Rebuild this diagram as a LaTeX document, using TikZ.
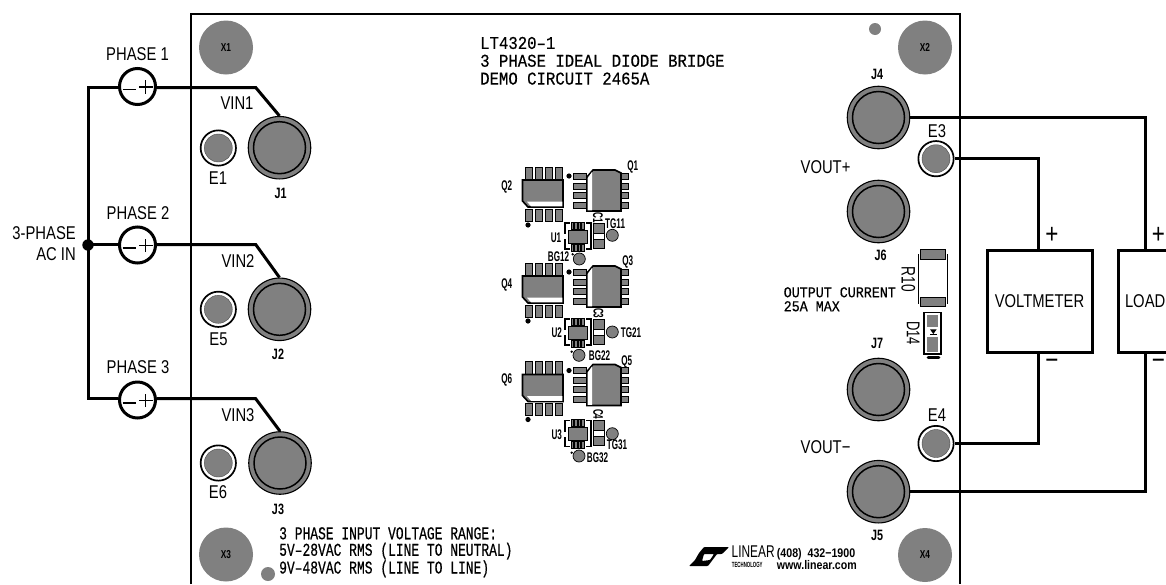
\documentclass[tikz,border=0pt]{standalone}
\usepackage{fontspec}
\setmainfont{Liberation Sans}
\newfontfamily\narrowf[FakeStretch=0.80]{Liberation Sans}
\newfontfamily\thinf[FakeStretch=0.70]{Liberation Sans}
\newfontfamily\silkf[FakeStretch=0.72]{Liberation Sans Bold}
\newfontfamily\tinyf[FakeStretch=0.58]{Liberation Sans Bold}
\newfontfamily\contactf[FakeStretch=0.85]{Liberation Sans Bold}
\newfontfamily\monoa[FakeStretch=0.87,FakeBold=0.4]{Liberation Mono}
\newfontfamily\monoc[FakeStretch=0.89,FakeBold=0.4]{Liberation Mono}
\newfontfamily\monoe[FakeStretch=0.72,FakeBold=0.4]{Liberation Mono}
\definecolor{pcb}{RGB}{128,128,128}
\tikzset{
  wire/.style={line width=3pt,line join=miter},
  board/.style={line width=1.7pt},
  lab/.style={font=\narrowf\fontsize{18.5}{18.5}\selectfont,inner sep=0pt},
  signtxt/.style={font=\narrowf\fontsize{28}{28}\selectfont,inner sep=0pt},
  silk/.style={font=\silkf\fontsize{#1}{#1}\selectfont,inner sep=0pt},
  silk/.default=15,
  smalltxt/.style={font=\tinyf\fontsize{14}{14}\selectfont,inner sep=0pt},
  titletxt/.style={font=\monoa\fontsize{18}{17.8}\selectfont,inner sep=0pt,align=left,anchor=north west},
  notetxt/.style={font=\monoc\fontsize{15}{14}\selectfont,inner sep=0pt,align=left,anchor=north west},
  rangetxt/.style={font=\monoe\fontsize{18}{16.5}\selectfont,inner sep=0pt,align=left,anchor=north west},
  dotp/.style={circle,fill=pcb,minimum size=#1,inner sep=0pt},
  phase/.style={circle,draw=black,line width=3pt,fill=white,minimum size=36pt,inner sep=0pt},
  box/.style={draw=black,line width=3pt,fill=white,inner sep=0pt},
  pad/.style={fill=pcb,draw=black,line width=.8pt},
  conn/.style={circle,draw=black,line width=1.1pt,fill=pcb,minimum size=62.5pt,inner sep=0pt},
  turret/.style={circle,draw=black,line width=1.7pt,fill=white,minimum size=35.3pt,inner sep=0pt},
}
\newcommand{\jack}[2]{%
  \node[conn] (#1) at (#2) {};
  \draw[black,line width=1.5pt] (#2) circle[radius=26];
}
\newcommand{\turr}[2]{%
  \node[turret] (#1) at (#2) {};
  \fill[pcb] (#2) circle[radius=14];
  \draw[black!70,line width=.4pt] (#2) circle[radius=14];
}
% #1 = vertical offset of the two FETs, #2 = vertical offset of controller and capacitor
\newcommand{\fetgroup}[2]{%
\begin{scope}[yshift=-#1pt]
  \foreach \px in {525,535,545,555}{
    \draw[pad] (\px,167) rectangle ++(7,13);
    \draw[pad] (\px,209) rectangle ++(7,12);
  }
  \fill[pcb,draw=black,line width=1.6pt] (522.5,180) -- (563,180) -- (563,207) -- (528,207) -- (522.5,201) -- cycle;
  \fill[white] (527,201.7) -- (562.3,201.7) -- (562.3,206.3) -- (531,206.3) -- cycle;
  \fill[black] (528,225) circle[radius=2.6];
  \foreach \py in {173,183,192,202}{
    \draw[pad] (573,\py) rectangle ++(13,6);
    \draw[pad] (616,\py) rectangle ++(12,6);
  }
  \fill[pcb,draw=black,line width=1.6pt] (587,177) -- (593,170) -- (615,170) -- (621,173) -- (621,211) -- (587,211) -- cycle;
  \fill[white] (587.7,178) -- (592,172) -- (592,210.4) -- (587.7,210.4) -- cycle;
  \fill[black] (569,176) circle[radius=2.6];
\end{scope}
\begin{scope}[yshift=-#2pt]
  \foreach \px in {571,574.5,578,581.5}{
    \draw[pad,line width=.4pt] (\px,222) rectangle ++(2.6,7);
    \draw[pad,line width=.4pt] (\px,244) rectangle ++(2.6,7);
  }
  \draw[black,line width=1.1pt] (570,223) -- (565,223) -- (565,249) -- (570,249) (586,223) -- (591,223) -- (591,249) -- (586,249);
  \fill[pcb,draw=black,line width=.6pt] (568,230) rectangle (587,243);
  \fill[white] (564,234) rectangle (567,239);
  \draw[pad,fill=white] (593,223) rectangle (604,248);
  \draw[pad] (593,223) rectangle (604,233);
  \draw[pad] (593,239) rectangle (604,248);
\end{scope}}
\begin{document}
\begin{tikzpicture}[x=1pt,y=-1pt]
\useasboundingbox (0,0) rectangle (1166,584);
\fill[white] (0,0) rectangle (1166,584);

% board
\draw[board] (191,584) -- (191,14) -- (960,14) -- (960,584);

% mounting holes
\node[dotp=54pt] (x1) at (226,47.5) {};
\node[dotp=54pt] (x2) at (925,47.5) {};
\node[dotp=54pt] (x3) at (226,554.5) {};
\node[dotp=54pt] (x4) at (925,555) {};
\node[silk=11.5] at (x1) {X1};
\node[silk=11.5] at (x2) {X2};
\node[silk=11.5] at (x3) {X3};
\node[silk=11.5] at (x4) {X4};
\node[dotp=12pt] (fid1) at (875,29) {};
\node[dotp=14pt] (fid2) at (268,574) {};

% wiring coordinates
\coordinate (busT) at (88,87.5);
\coordinate (busM) at (88,244.5);
\coordinate (busB) at (88,398.7);
\coordinate (k1) at (255.7,87.5);
\coordinate (k2) at (255.7,244.5);
\coordinate (k3) at (255.7,398.7);
\coordinate (c1) at (1145,117.5);
\coordinate (c2) at (1145,491.7);
\coordinate (m1) at (1038,158.7);
\coordinate (m2) at (1038,443.5);

\jack{J1}{279.5,147.7}
\jack{J2}{279.5,309.3}
\jack{J3}{280,463}
\turr{E1}{218.3,148}
\turr{E5}{218.3,309.3}
\turr{E6}{218.3,463}
\jack{J4}{878.5,117.5}
\jack{J6}{878.5,211.5}
\jack{J7}{878.5,389.5}
\jack{J5}{878.5,491.7}
\turr{E3}{936,158.7}
\turr{E4}{936,443.5}

% phases
\node[phase] (p1) at (137.5,86.5) {};
\node[phase] (p2) at (137.5,245) {};
\node[phase] (p3) at (137.5,400) {};
\foreach \n in {p1,p2,p3}{
  \draw[line width=1.4pt] ([xshift=-15pt,yshift=-3pt]\n.center) -- ([xshift=-1.5pt,yshift=-3pt]\n.center);
  \draw[line width=1.4pt] ([xshift=1.5pt,yshift=-.5pt]\n.center) -- ([xshift=15pt,yshift=-.5pt]\n.center);
  \draw[line width=1.4pt] ([xshift=8.2pt,yshift=-7.2pt]\n.center) -- ([xshift=8.2pt,yshift=6.2pt]\n.center);
}
\draw[wire] (p1.west |- busT) -- (busT) -- (busB) -- (p3.west |- busB);
\draw[wire] (busM) -- (p2.west |- busM);
\fill (88,245) circle[radius=5.7];
\draw[wire] (p1.east |- k1) -- (k1) -- (J1.north);
\draw[wire] (p2.east |- k2) -- (k2) -- (J2.north);
\draw[wire] (p3.east |- k3) -- (k3) -- (J3.north);

% instruments
\node[box,minimum width=105pt,minimum height=102pt] (vm) at (1039.5,301) {};
\node[box,minimum width=62pt,minimum height=102pt] (load) at (1149,301) {};
\node[lab] at (vm.center) {VOLTMETER};
\node[lab,anchor=east] at (1165.5,301) {LOAD};
\draw[wire] (J4.east) -- (c1) -- (c1 |- load.north);
\draw[wire] (J5.east) -- (c2) -- (c2 |- load.south);
\draw[wire] (E3.east) -- (m1) -- (vm.north -| m1);
\draw[wire] (E4.east) -- (m2) -- (vm.south -| m2);
\node[signtxt] at (1052,235) {+};
\node[signtxt] at (1052,364) {\textminus};
\node[signtxt] at (1158.5,235) {+};
\node[signtxt] at (1158.5,364) {\textminus};

% labels
\node[lab] at (137.5,54) {PHASE 1};
\node[lab] at (138,213.3) {PHASE 2};
\node[lab] at (138,367) {PHASE 3};
\node[lab,anchor=east] at (76,233.3) {3-PHASE};
\node[lab,anchor=east] at (76,254.3) {AC IN};
\node[lab] at (237,103.5) {VIN1};
\node[lab] at (238,261) {VIN2};
\node[lab] at (238,415.5) {VIN3};
\node[lab] at (825.5,167) {VOUT+};
\node[lab] at (825.5,447) {VOUT\textminus};
\node[lab] at (218,178.5) {E1};
\node[lab] at (218.5,339.5) {E5};
\node[lab] at (218,492) {E6};
\node[lab] at (937,131) {E3};
\node[lab] at (937,415) {E4};
\node[silk] at (280.7,193) {J1};
\node[silk] at (278,354) {J2};
\node[silk] at (278,509) {J3};
\node[silk] at (877,74) {J4};
\node[silk] at (880.7,255) {J6};
\node[silk] at (877,343.3) {J7};
\node[silk] at (877,535) {J5};

% texts
\node[titletxt] at (480,36.7) {LT4320–1\\3 PHASE IDEAL DIODE BRIDGE\\DEMO CIRCUIT 2465A};
\node[notetxt] at (783.5,287) {OUTPUT CURRENT\\25A MAX};
\node[rangetxt] at (279,527) {3 PHASE INPUT VOLTAGE RANGE:\\5V–28VAC RMS (LINE TO NEUTRAL)\\9V–48VAC RMS (LINE TO LINE)};

% FET groups
\fetgroup{0}{0}
\fetgroup{96}{96}
\fetgroup{194.5}{197.5}
\node[smalltxt] at (632.7,166.7) {Q1};
\node[smalltxt] at (506.7,187.3) {Q2};
\node[smalltxt] at (627.7,261.7) {Q3};
\node[smalltxt] at (506.7,285) {Q4};
\node[smalltxt] at (626.7,361.7) {Q5};
\node[smalltxt] at (506.7,380) {Q6};
\node[smalltxt] at (556,237.3) {U1};
\node[smalltxt] at (556.7,332.7) {U2};
\node[smalltxt] at (556.7,434.3) {U3};
\node[smalltxt,rotate=-90] at (598,217.7) {C1};
\node[smalltxt,rotate=-90] at (598.3,313.3) {C3};
\node[smalltxt,rotate=-90] at (598.3,414.3) {C4};
\node[dotp=12pt] (tg1) at (612.3,235.3) {};
\node[dotp=12pt] (tg2) at (612.3,332) {};
\node[dotp=12pt] (tg3) at (612.3,433.7) {};
\node[dotp=12pt] (bg1) at (579.3,259) {};
\node[dotp=12pt] (bg2) at (579,355.3) {};
\node[dotp=12pt] (bg3) at (579,456) {};
\foreach \n in {tg1,tg2,tg3,bg1,bg2,bg3}{\draw[line width=.7pt] (\n) circle[radius=6];}
\node[smalltxt,anchor=west] at (605,224) {TG11};
\node[smalltxt,anchor=west] at (620.7,332.7) {TG21};
\node[smalltxt,anchor=west] at (606.7,445) {TG31};
\node[smalltxt,anchor=east] at (569.3,256.7) {BG12};
\node[smalltxt,anchor=west] at (588.7,355.3) {BG22};
\node[smalltxt,anchor=west] at (586.7,458) {BG32};
\fill (572.7,254.3) circle[radius=1.3];
\fill (571.7,351.7) circle[radius=1.3];
\fill (571.7,452.7) circle[radius=1.3];

% R10
\draw[line width=.9pt] (918.3,254) -- (918.3,304) (947.3,254) -- (947.3,304);
\draw[pad] (920,249.3) rectangle (945.7,259);
\draw[pad] (920,297.3) rectangle (945.7,306.7);
\node[font=\thinf\fontsize{19.5}{19.5}\selectfont,inner sep=0pt,rotate=-90] at (908.3,279.3) {R10};
% D14
\draw[line width=1.2pt] (924,312.7) rectangle (941,354);
\fill[pcb] (926.7,315) rectangle (938.3,326.7);
\fill[pcb] (926.7,337.3) rectangle (938.3,351.7);
\fill (930,329.3) -- (936.7,329.3) -- (933.3,334) -- cycle;
\draw[line width=.9pt] (930,334.7) -- (936.7,334.7);
\draw[line width=2.6pt,line cap=round] (928,357.3) -- (939,357.3);
\node[font=\thinf\fontsize{18.5}{18.5}\selectfont,inner sep=0pt,rotate=-90] at (913.3,333.3) {D14};

% logo
\fill[even odd rule,rounded corners=.8pt] (704,547) -- (729,547) -- (722,554) -- (717,554) -- (708,566) -- (689,566) -- (695,560) -- (699,553) -- cycle
  (704,554) -- (714,554) -- (710,560) -- (702,561) -- cycle;
\node[font=\thinf\fontsize{17}{17}\selectfont,inner sep=0pt,anchor=west] at (731.5,552) {LINEAR};
\node[font=\tinyf\fontsize{7.5}{7.5}\selectfont,inner sep=0pt,anchor=west] at (731.7,564.5) {TECHNOLOGY};
\node[font=\contactf\fontsize{12.5}{12.5}\selectfont,inner sep=0pt,anchor=west] at (776.7,554.3) {(408)\ \ 432\textminus 1900};
\node[font=\contactf\fontsize{12.5}{12.5}\selectfont,inner sep=0pt,anchor=west] at (776.7,565) {www.linear.com};
\end{tikzpicture}
\end{document}
